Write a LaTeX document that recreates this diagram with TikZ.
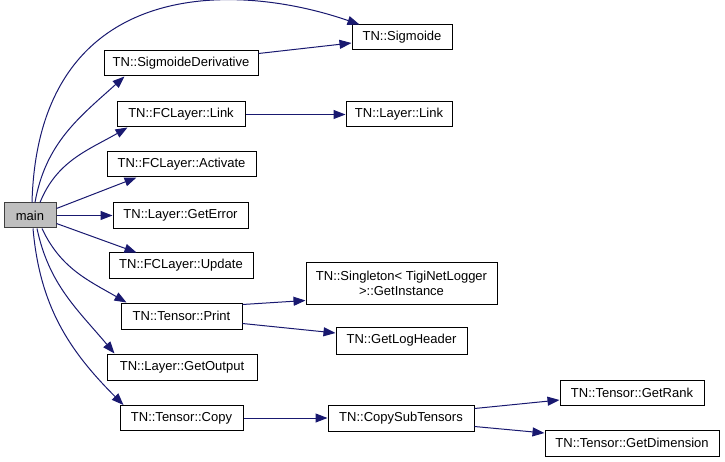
\documentclass[tikz,border=0pt]{standalone}
\usepackage{fontspec}
\setmainfont{Liberation Sans}
\usetikzlibrary{arrows.meta}
\definecolor{edgeblue}{HTML}{191970}
\definecolor{maingray}{HTML}{BFBFBF}
\tikzset{
  fn/.style={draw=black, line width=1pt, fill=white, inner sep=0pt, align=center,
    font=\fontsize{13}{15}\selectfont},
  mainbox/.style={fn, fill=maingray, draw=black!75},
  call/.style={draw=edgeblue, line width=1pt, -{Triangle[length=12pt,width=9pt]}},
}
\begin{document}
\begin{tikzpicture}[x=1pt,y=-1pt]
\useasboundingbox (0,0) rectangle (725,462);
% nodes
\node[mainbox, minimum width=52pt, minimum height=25pt] (main) at (30,215.5) {main};
\node[fn, minimum width=100pt, minimum height=25pt] (sig) at (402,37.5) {TN::Sigmoide};
\node[fn, minimum width=154pt, minimum height=25pt] (sigder) at (181,63.5) {TN::SigmoideDerivative};
\node[fn, minimum width=128pt, minimum height=25pt] (fclink) at (181,114.5) {TN::FCLayer::Link};
\node[fn, minimum width=106pt, minimum height=25pt] (llink) at (399,114.5) {TN::Layer::Link};
\node[fn, minimum width=149pt, minimum height=25pt] (act) at (181.5,164.5) {TN::FCLayer::Activate};
\node[fn, minimum width=135pt, minimum height=26pt] (geterr) at (180.5,215.5) {TN::Layer::GetError};
\node[fn, minimum width=144pt, minimum height=25pt] (upd) at (181,265.5) {TN::FCLayer::Update};
\node[fn, minimum width=121pt, minimum height=26pt] (print) at (181.5,316) {TN::Tensor::Print};
\node[fn, minimum width=191pt, minimum height=41pt] (single) at (401.5,283.5) {TN::Singleton< TigiNetLogger\\ >::GetInstance};
\node[fn, minimum width=131pt, minimum height=27pt] (loghdr) at (401.5,340.5) {TN::GetLogHeader};
\node[fn, minimum width=150pt, minimum height=26pt] (getout) at (182,367) {TN::Layer::GetOutput};
\node[fn, minimum width=123pt, minimum height=25pt] (copy) at (181.5,418) {TN::Tensor::Copy};
\node[fn, minimum width=146pt, minimum height=26pt] (cst) at (401,418) {TN::CopySubTensors};
\node[fn, minimum width=144pt, minimum height=25pt] (rank) at (632,392.5) {TN::Tensor::GetRank};
\node[fn, minimum width=174pt, minimum height=26pt] (dim) at (632,443) {TN::Tensor::GetDimension};
% edges from main
\draw[call] ([xshift=2pt]main.north) .. controls +(6,-223) and +(-130,-45) .. ([xshift=8pt]sig.north west);
\draw[call] ([xshift=5pt]main.north) to[out=80,in=-138] ([xshift=21pt]sigder.south west);
\draw[call] ([xshift=10pt]main.north) to[out=68,in=-150] ([xshift=11pt]fclink.south west);
\draw[call] ([yshift=7pt]main.east) -- ([xshift=30pt]act.south west);
\draw[call] (main.east) -- (geterr.west);
\draw[call] ([yshift=-8pt]main.east) -- ([xshift=28pt]upd.north west);
\draw[call] ([xshift=12pt]main.south) to[out=-65,in=150] ([xshift=6pt]print.north west);
\draw[call] ([xshift=7pt]main.south) to[out=-78,in=130] ([xshift=8pt]getout.north west);
\draw[call] ([xshift=3pt]main.south) to[out=-85,in=135] ([xshift=4pt]copy.north west);
% other edges
\draw[call] ([yshift=-3pt]sigder.north east) -- ([yshift=-5.5pt]sig.west);
\draw[call] (fclink.east) -- (llink.west);
\draw[call] ([yshift=-2pt]print.north east) -- ([yshift=4pt]single.south west);
\draw[call] ([yshift=6pt]print.south east) -- ([yshift=7.5pt]loghdr.west);
\draw[call] (copy.east) -- (cst.west);
\draw[call] ([yshift=-4pt]cst.north east) -- ([yshift=-7.5pt]rank.west);
\draw[call] ([yshift=5pt]cst.south east) -- ([yshift=10pt]dim.west);
\end{tikzpicture}
\end{document}
